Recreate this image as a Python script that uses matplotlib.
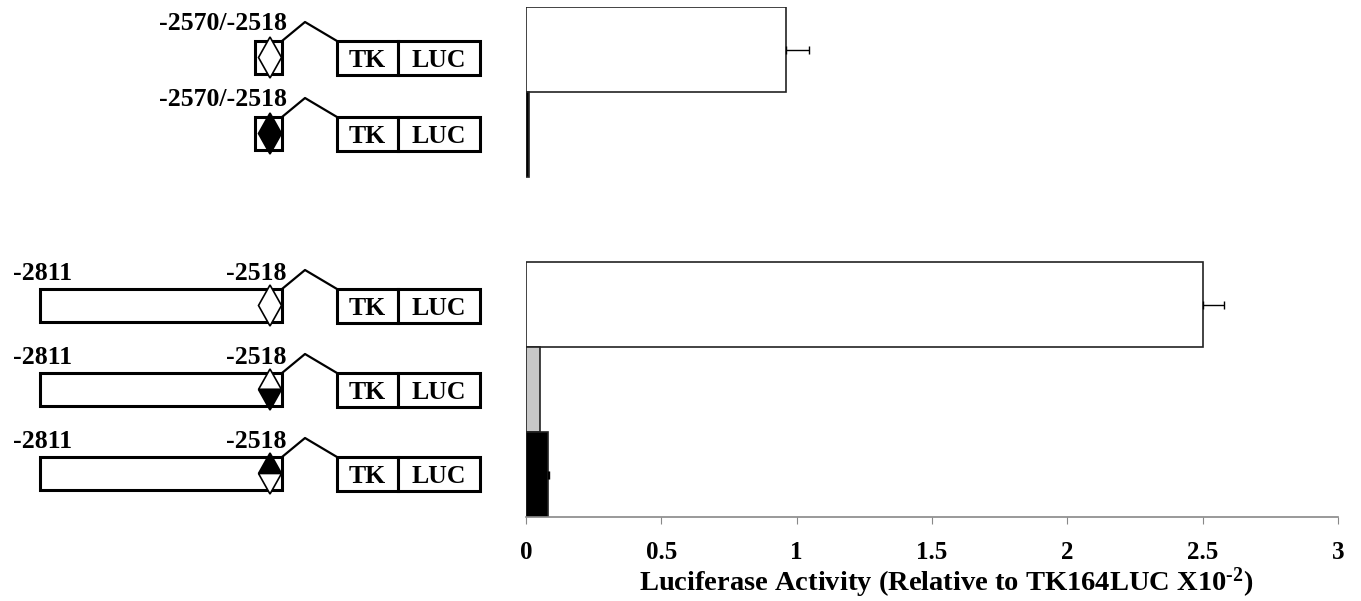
import matplotlib.pyplot as plt
from matplotlib.patches import Rectangle, Polygon

plt.rcParams["font.family"] = "Liberation Serif"
plt.rcParams["font.weight"] = "bold"
plt.rcParams["mathtext.fontset"] = "custom"
plt.rcParams["mathtext.rm"] = "Liberation Serif:bold"
plt.rcParams["mathtext.bf"] = "Liberation Serif:bold"
plt.rcParams["mathtext.default"] = "bf"

# bar data (slot 2 is an empty gap between the two groups)
slots = [0, 1, 3, 4, 5]
activity = [0.96, 0.01, 2.50, 0.05, 0.08]
errors = [0.085, 0.0, 0.08, 0.0, 0.005]
bar_colors = ["white", "black", "white", "#c8c8c8", "black"]
xticks = [0, 0.5, 1, 1.5, 2, 2.5, 3]
xtick_labels = ["0", "0.5", "1", "1.5", "2", "2.5", "3"]

# construct diagrams
start_labels = ["-2570/-2518", "-2570/-2518", "-2811", "-2811", "-2811"]
end_labels = ["", "", "-2518", "-2518", "-2518"]
site_fill = ["none", "both", "none", "lower", "upper"]
long_box = [False, False, True, True, True]
row_tops = [41, 117, 289, 373, 457]

fig = plt.figure(figsize=(13.61, 6.01), dpi=100)

# drawing layer in pixel coordinates
dr = fig.add_axes([0, 0, 1, 1])
dr.set_xlim(0, 1361)
dr.set_ylim(601, 0)
dr.axis("off")

fs = 18.5
for top, lab, elab, fill, lng in zip(row_tops, start_labels, end_labels, site_fill, long_box):
    h = 33
    bot = top + h
    x0 = 40 if lng else 255
    x1 = 282
    dr.add_patch(Rectangle((x0, top), x1 - x0, h, facecolor="white", edgecolor="black", lw=2.2))
    # TK / LUC boxes
    dr.add_patch(Rectangle((337, top), 61, h + 1, facecolor="white", edgecolor="black", lw=2.2))
    dr.add_patch(Rectangle((398, top), 82, h + 1, facecolor="white", edgecolor="black", lw=2.2))
    dr.text(367.5, top + h / 2 + 3, "TK", ha="center", va="center", fontsize=fs)
    dr.text(439, top + h / 2 + 3, "LUC", ha="center", va="center", fontsize=fs)
    # connector
    dr.plot([x1, 305, 337], [top, top - 19, top], color="black", lw=1.6)
    # site diamond
    cx, w = 270, 11.5
    dt, db = top - 4, bot + 4
    mid = (dt + db) / 2
    if fill in ("none", "both"):
        dr.add_patch(Polygon([(cx, dt), (cx - w, mid), (cx, db), (cx + w, mid)], closed=True,
                             facecolor="black" if fill == "both" else "white",
                             edgecolor="black", lw=1.2))
    else:
        dr.add_patch(Polygon([(cx, dt), (cx - w, mid), (cx + w, mid)], closed=True,
                             facecolor="black" if fill == "upper" else "white",
                             edgecolor="black", lw=1.2))
        dr.add_patch(Polygon([(cx - w, mid), (cx + w, mid), (cx, db)], closed=True,
                             facecolor="black" if fill == "lower" else "white",
                             edgecolor="black", lw=1.2))
    # labels
    if lng:
        dr.text(13, top - 9, lab, ha="left", va="baseline", fontsize=fs)
        dr.text(287, top - 9, elab, ha="right", va="baseline", fontsize=fs)
    else:
        dr.text(287, top - 11, lab, ha="right", va="baseline", fontsize=fs)

# bar chart
ax = fig.add_axes([526 / 1361, 84 / 601, 812 / 1361, 510 / 601])
ax.barh(slots, activity, height=1.0, color=bar_colors, edgecolor="#222222", lw=1.2, zorder=2)
ex = [a for a, e in zip(activity, errors) if e > 0]
ey = [s for s, e in zip(slots, errors) if e > 0]
ee = [e for e in errors if e > 0]
ax.errorbar(ex, ey, xerr=[[0] * len(ee), ee], fmt="none",
            ecolor="black", elinewidth=1.0, capsize=3, capthick=1.0, zorder=3)
ax.set_ylim(5.5, -0.5)
ax.set_xlim(0, 3)
ax.set_yticks([])
ax.set_xticks(xticks)
ax.set_xticklabels(xtick_labels, fontsize=18, fontweight="bold")
ax.tick_params(axis="x", direction="out", length=5, color="#888888", pad=12)
for s in ["top", "right", "left"]:
    ax.spines[s].set_visible(False)
ax.spines["bottom"].set_color("#888888")
ax.spines["bottom"].set_linewidth(1.2)
ax.set_xlabel("Luciferase Activity (Relative to TK164LUC X10$^{\\text{-2}}$)", fontsize=20.5,
              fontweight="bold", labelpad=1)
ax.xaxis.label.set_x(0.517)
ax.patch.set_alpha(0)

fig.savefig("out.png", dpi=100)
